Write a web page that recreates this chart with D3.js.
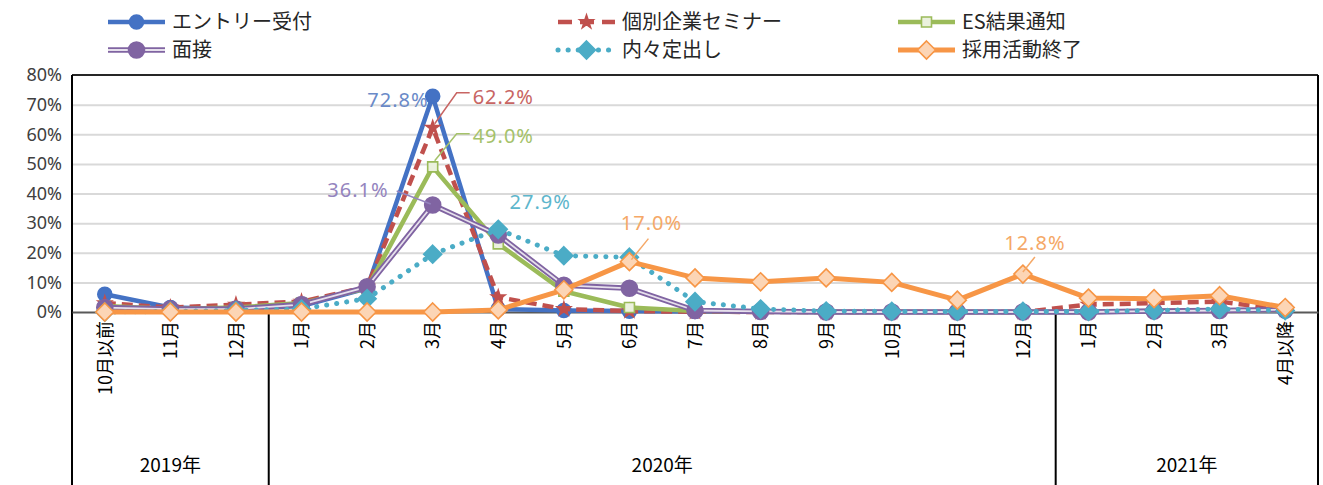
<!DOCTYPE html>
<html><head><meta charset="utf-8">
<script src="https://cdn.jsdelivr.net/npm/d3@7"></script>
<style>
body{margin:0;background:#fff}
svg{display:block}
text{font-family:"Noto Sans CJK JP","Noto Sans",sans-serif}
</style>
</head><body>
<svg id="c" width="1323" height="485"></svg>
<script>
// ---------- data ----------
const categories = ["10月以前","11月","12月","1月","2月","3月","4月","5月","6月","7月","8月","9月","10月","11月","12月","1月","2月","3月","4月以降"];
const yearLabels = ["2019年","2020年","2021年"];
const yearFirstIndex = [0,3,15];
const yearLastIndex = [2,14,18];
const yTicks = [0,10,20,30,40,50,60,70,80];
const seriesNames = ["エントリー受付","個別企業セミナー","ES結果通知","面接","内々定出し","採用活動終了"];
const entry     = [6.0,1.5,1.0,2.0,8.0,72.8,1.0,0.5,0.3,0.2,0.1,0,0,0,0,0,0.2,0.5,0.3];
const seminar   = [3.0,1.5,2.5,3.5,8.5,62.2,5.0,1.0,0.3,0.1,0,0,0,0,0,2.5,3.0,3.5,0.8];
const esResult  = [2.0,1.0,1.5,3.0,8.0,49.0,23.0,7.0,1.5,0.3,0.1,0,0,0,0,0,0.3,0.5,0.5];
const interview = [1.5,1.0,1.0,2.5,8.5,36.1,26.0,9.0,8.0,0.5,0.2,0,0,0,0,0,0.3,0.5,0.8];
const naiteio   = [0,0.2,0.5,1.0,4.5,19.5,27.9,19.0,18.5,3.5,1.0,0.3,0.2,0.2,0.2,0.2,0.5,1.0,0.5];
const finished  = [0,0,0,0,0,0,0.7,7.5,17.0,11.5,10.2,11.5,10.0,4.0,12.8,4.7,4.5,5.5,1.5];
// labelled points: [series index, category index]
const labelled = [[0,5],[1,5],[2,5],[3,5],[4,6],[5,8],[5,14]];

// ---------- layout ----------
const svg = d3.select("#c");
const L = 72, R = 1318, T = 75, B = 312, BOTTOM = 485;
const x = d3.scalePoint().domain(d3.range(categories.length)).range([L, R]).padding(0.5);
const y = d3.scaleLinear().domain([0, 80]).range([B, T]);
const step = x.step();

const allSeries = [entry, seminar, esResult, interview, naiteio, finished];

const styles = [
  {color:"#4472C4", width:4.5, dash:null, marker:"circle", mfill:"#4472C4", mstroke:"#4472C4", msize:7},
  {color:"#C0504D", width:4.5, dash:"11 6", marker:"star", mfill:"#C0504D", mstroke:"#C0504D", msize:5},
  {color:"#9BBB59", width:4.5, dash:null, marker:"square", mfill:"#EBF1DE", mstroke:"#9BBB59", msize:5},
  {color:"#8064A2", width:5.5, dash:null, inner:"#E6E0EC", marker:"circle", mfill:"#8064A2", mstroke:"#8064A2", msize:8},
  {color:"#4BACC6", width:5, dash:"0.1 10", cap:"round", marker:"diamond", mfill:"#4BACC6", mstroke:"#4BACC6", msize:9},
  {color:"#F79646", width:5, dash:null, marker:"diamond", mfill:"#FCD5B5", mstroke:"#F79646", msize:9}
];
const labelColors = ["#6A8AC8","#C86563","#A5C26A","#9484BE","#5DB6CC","#F5A867","#F5A867"];

// ---------- grid ----------
const gridG = svg.append("g").attr("transform", `translate(${L},0)`)
  .call(d3.axisLeft(y).tickValues(yTicks.filter(d => d > 0 && d < 80)).tickSize(-(R - L)).tickFormat(""));
gridG.select(".domain").remove();
gridG.selectAll("line").attr("stroke", "#D9D9D9").attr("stroke-width", 2);

// y tick labels
const yAx = svg.append("g").attr("transform", `translate(${L - 8},0)`)
  .call(d3.axisLeft(y).tickValues(yTicks).tickSize(0).tickFormat(d => d + "%"));
yAx.select(".domain").remove();
yAx.selectAll("text").attr("font-size", 18).attr("fill", "#404040").attr("x", -2)
  .style("font-family", '"Noto Sans","Noto Sans CJK JP",sans-serif');

// frame lines
svg.append("line").attr("x1", L).attr("x2", R).attr("y1", T).attr("y2", T).attr("stroke", "#262626").attr("stroke-width", 2);
svg.append("line").attr("x1", L).attr("x2", L).attr("y1", T).attr("y2", BOTTOM).attr("stroke", "#000").attr("stroke-width", 2);
svg.append("line").attr("x1", R).attr("x2", R).attr("y1", T).attr("y2", BOTTOM).attr("stroke", "#000").attr("stroke-width", 2);
// year separators
yearFirstIndex.slice(1).forEach(i => {
  const sx = x(i) - step / 2;
  svg.append("line").attr("x1", sx).attr("x2", sx).attr("y1", B).attr("y2", BOTTOM).attr("stroke", "#000").attr("stroke-width", 2);
});

// x axis (category labels)
const xAx = svg.append("g").attr("transform", `translate(0,${B})`)
  .call(d3.axisBottom(x).tickSize(0).tickFormat(i => categories[i]));
xAx.select(".domain").attr("stroke", "#595959").attr("stroke-width", 2);
xAx.selectAll("text")
  .attr("font-size", 18).attr("fill", "#000")
  .attr("transform", "rotate(-90)")
  .attr("text-anchor", "end")
  .attr("x", -9).attr("y", 0).attr("dy", "0.35em");

// year labels
yearLabels.forEach((t, k) => {
  const cx = (x(yearFirstIndex[k]) + x(yearLastIndex[k])) / 2;
  svg.append("text").attr("x", cx).attr("y", 472).attr("text-anchor", "middle")
    .attr("font-size", 19).attr("fill", "#000").text(t);
});

// ---------- markers ----------
function markerPath(type, s) {
  if (type === "diamond") return `M0,${-s}L${s},0L0,${s}L${-s},0Z`;
  if (type === "square") return `M${-s},${-s}H${s}V${s}H${-s}Z`;
  if (type === "star") return d3.symbol(d3.symbolStar, s * s * 2.2)();
  return d3.symbol(d3.symbolCircle, Math.PI * s * s)();
}
function drawMarker(g, st, px, py) {
  g.append("path").attr("d", markerPath(st.marker, st.msize))
    .attr("transform", `translate(${px},${py})`)
    .attr("fill", st.mfill).attr("stroke", st.mstroke).attr("stroke-width", 1.6);
}

// ---------- series ----------
const line = d3.line().x((d, i) => x(i)).y(d => y(d));
allSeries.forEach((vals, si) => {
  const st = styles[si];
  const g = svg.append("g");
  const p = g.append("path").datum(vals).attr("d", line).attr("fill", "none")
    .attr("stroke", st.color).attr("stroke-width", st.width).attr("stroke-linejoin", "round")
    .attr("stroke-linecap", st.cap || "butt");
  if (st.dash) p.attr("stroke-dasharray", st.dash);
  if (st.inner) g.append("path").datum(vals).attr("d", line).attr("fill", "none")
    .attr("stroke", st.inner).attr("stroke-width", 1.8).attr("stroke-linejoin", "round");
  vals.forEach((v, i) => drawMarker(g, st, x(i), y(v)));
});

// ---------- data labels ----------
const placements = [
  {dx:-4,  dy:4,   anchor:"end",   leader:null},
  {dx:40,  dy:-31, anchor:"start", leader:[[2,-4],[24,-35],[37,-35]]},
  {dx:40,  dy:-31, anchor:"start", leader:[[2,-6],[24,-33],[37,-33]]},
  {dx:-44, dy:-15, anchor:"end",   leader:[[-2,-1],[-36,-14]]},
  {dx:42,  dy:-27, anchor:"middle",leader:null},
  {dx:22,  dy:-39, anchor:"middle",leader:[[2,-2],[19,-23]]},
  {dx:12,  dy:-31, anchor:"middle",leader:[[0,-2],[12,-17]]}
];
labelled.forEach(([si, ci], k) => {
  const v = allSeries[si][ci];
  const px = x(ci), py = y(v), pl = placements[k];
  if (pl.leader) {
    svg.append("path").attr("d", d3.line()(pl.leader.map(([a, b]) => [px + a, py + b])))
      .attr("fill", "none").attr("stroke", labelColors[k]).attr("stroke-width", 1.5);
  }
  svg.append("text").attr("x", px + pl.dx).attr("y", py + pl.dy).attr("dy", "0.35em")
    .attr("text-anchor", pl.anchor).attr("font-size", 20).attr("letter-spacing", 1)
    .attr("fill", labelColors[k])
    .style("font-family", '"Noto Sans","Noto Sans CJK JP",sans-serif')
    .text(v.toFixed(1) + "%");
});

// ---------- legend ----------
const legCols = [108, 558, 898], legRows = [22, 50];
seriesNames.forEach((name, si) => {
  const st = styles[si];
  const lx = legCols[si % 3], ly = legRows[Math.floor(si / 3)];
  const g = svg.append("g");
  const ln = g.append("line").attr("x1", lx).attr("x2", lx + 57).attr("y1", ly).attr("y2", ly)
    .attr("stroke", st.color).attr("stroke-width", st.width).attr("stroke-linecap", st.cap || "butt");
  if (st.dash) ln.attr("stroke-dasharray", st.dash === "11 6" ? "14 8" : st.dash);
  if (st.inner) g.append("line").attr("x1", lx).attr("x2", lx + 57).attr("y1", ly).attr("y2", ly)
    .attr("stroke", st.inner).attr("stroke-width", 1.8);
  drawMarker(g, st, lx + 28.5, ly);
  g.append("text").attr("x", lx + 64).attr("y", ly).attr("dy", "0.36em")
    .attr("font-size", 20).attr("fill", "#262626").text(name);
});
</script>
</body></html>
